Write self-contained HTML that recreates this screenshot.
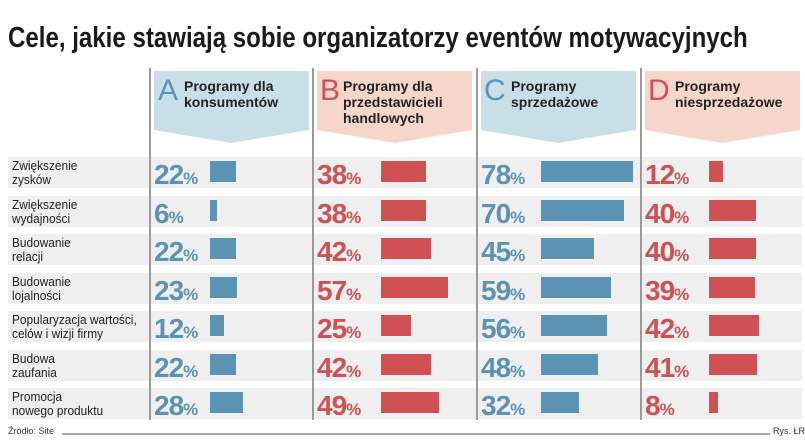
<!DOCTYPE html>
<html><head><meta charset="utf-8"><style>
*{margin:0;padding:0;box-sizing:border-box}
body{width:805px;height:442px;background:#fff;position:relative;overflow:hidden;font-family:"Liberation Sans",sans-serif;color:#222}
.abs{position:absolute}
.title{left:8px;top:22px;font-size:29px;font-weight:bold;white-space:nowrap;transform:scaleX(0.83);transform-origin:left top;color:#1a1a1a}
.sep{width:2px;background:#9a9a9a;top:68px;height:352px}
.band{left:8px;width:794px;height:31px;background:#efefef}
.lab{left:12px;font-size:12.5px;line-height:14px;color:#222;transform:scaleX(0.95);transform-origin:left top;white-space:nowrap}
.num{font-weight:bold;font-size:28px;line-height:27px;letter-spacing:-1px}
.num span{font-size:17px;letter-spacing:0}
.bar{height:21px}
.b{color:#5a93b3}.r{color:#d05153}
.bb{background:#5a93b3}.rb{background:#d05153}
.hl{font-size:30px;line-height:30px}
.ht{font-size:14px;font-weight:bold;line-height:16px;color:#222}
</style></head><body>
<div class="abs title">Cele, jakie stawiają sobie organizatorzy eventów motywacyjnych</div>

<svg class="abs" style="left:0;top:0" width="805" height="160">
<polygon points="154,71 309,71 309,130 231,143 154,130" fill="#c9dfe8"/>
<polygon points="317,71 472,71 472,130 395,143 317,130" fill="#f6d6ca"/>
<polygon points="481,71 636,71 636,130 558,143 481,130" fill="#c9dfe8"/>
<polygon points="645,71 800,71 800,130 722,143 645,130" fill="#f6d6ca"/>
</svg>
<div class="abs hl b" style="left:158px;top:76px">A</div>
<div class="abs ht" style="left:184px;top:78px">Programy dla<br>konsumentów</div>
<div class="abs hl r" style="left:320px;top:76px">B</div>
<div class="abs ht" style="left:343px;top:78px">Programy dla<br>przedstawicieli<br>handlowych</div>
<div class="abs hl b" style="left:484px;top:76px">C</div>
<div class="abs ht" style="left:511px;top:78px">Programy<br>sprzedażowe</div>
<div class="abs hl r" style="left:648px;top:76px">D</div>
<div class="abs ht" style="left:675px;top:78px">Programy<br>niesprzedażowe</div>

<div id="rows"></div>

<div class="abs sep" style="left:149px"></div>
<div class="abs sep" style="left:312px"></div>
<div class="abs sep" style="left:476px"></div>
<div class="abs sep" style="left:640px"></div>

<div class="abs" style="left:8px;top:426px;font-size:9px;color:#333">Źródło: Site</div>
<div class="abs" style="left:62px;top:433px;width:708px;height:2px;background:#aaa"></div>
<div class="abs" style="left:773px;top:426px;font-size:9px;color:#333">Rys. ŁR</div>

<script>
var labels=[["Zwiększenie","zysków"],["Zwiększenie","wydajności"],["Budowanie","relacji"],["Budowanie","lojalności"],["Popularyzacja wartości,","celów i wizji firmy"],["Budowa","zaufania"],["Promocja","nowego produktu"]];
var data=[[22,38,78,12],[6,38,70,40],[22,42,45,40],[23,57,59,39],[12,25,56,42],[22,42,48,41],[28,49,32,8]];
var cx=[154,317,481,645],bx=[210,381,541,709],cl=["b","r","b","r"];
var h="";
for(var i=0;i<7;i++){var t=157+i*38.5;
h+='<div class="abs band" style="top:'+t+'px"></div>';
h+='<div class="abs lab" style="top:'+(t+2)+'px">'+labels[i][0]+'<br>'+labels[i][1]+'</div>';
for(var j=0;j<4;j++){
h+='<div class="abs num '+cl[j]+'" style="left:'+cx[j]+'px;top:'+(t+4)+'px">'+data[i][j]+'<span>%</span></div>';
h+='<div class="abs bar '+cl[j]+'b" style="left:'+bx[j]+'px;top:'+(t+4)+'px;width:'+Math.round(data[i][j]*1.18)+'px"></div>';}}
document.getElementById("rows").innerHTML=h;
</script>
</body></html>
